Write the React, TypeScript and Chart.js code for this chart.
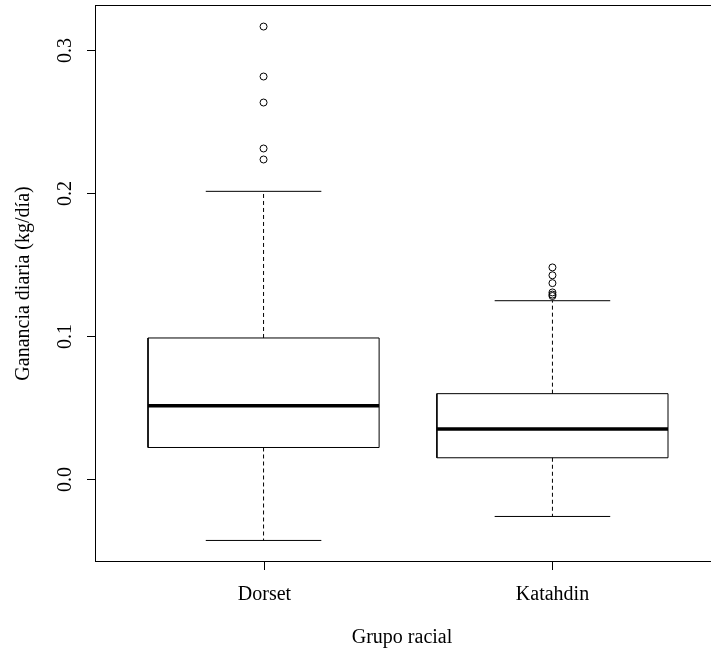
import React, { useEffect, useRef } from "react";
import Chart from "chart.js/auto";

const categories = ["Dorset", "Katahdin"];
const lowerWhisker = [-0.0432, -0.0264];
const q1 = [0.0219, 0.0147];
const medians = [0.0512, 0.0348];
const q3 = [0.0986, 0.0596];
const upperWhisker = [0.2013, 0.1247];
const dorsetOutliers = [0.3167, 0.2817, 0.2635, 0.2313, 0.2236];
const katahdinOutliers = [0.148, 0.1425, 0.137, 0.1305, 0.129, 0.128];
const yTicks = [0, 0.1, 0.2, 0.3];
const yTickLabels = ["0.0", "0.1", "0.2", "0.3"];
const xTitle = "Grupo racial";
const yTitle = "Ganancia diaria (kg/día)";

const FONT = '20px "Liberation Serif", "Times New Roman", serif';

export default function App() {
  const ref = useRef<HTMLCanvasElement | null>(null);

  useEffect(() => {
    const canvas = ref.current;
    if (!canvas) return;
    const outliers = [dorsetOutliers, katahdinOutliers];
    const datasets: any[] = [];
    const line = (pts: { x: number; y: number }[], width: number, dash: number[] = []) => ({
      data: pts,
      showLine: true,
      borderColor: "#000",
      borderWidth: width,
      borderDash: dash,
      pointRadius: 0,
      fill: false,
      tension: 0,
    });
    categories.forEach((_, i) => {
      const c = i + 1;
      const hw = 0.4;
      const cw = 0.2;
      datasets.push(
        line(
          [
            { x: c - hw, y: q1[i] },
            { x: c + hw, y: q1[i] },
            { x: c + hw, y: q3[i] },
            { x: c - hw, y: q3[i] },
            { x: c - hw, y: q1[i] },
          ],
          1
        )
      );
      datasets.push(line([{ x: c - hw, y: medians[i] }, { x: c + hw, y: medians[i] }], 3.5));
      datasets.push(line([{ x: c, y: q3[i] }, { x: c, y: upperWhisker[i] }], 1, [4, 3]));
      datasets.push(line([{ x: c, y: q1[i] }, { x: c, y: lowerWhisker[i] }], 1, [4, 3]));
      datasets.push(line([{ x: c - cw, y: upperWhisker[i] }, { x: c + cw, y: upperWhisker[i] }], 1));
      datasets.push(line([{ x: c - cw, y: lowerWhisker[i] }, { x: c + cw, y: lowerWhisker[i] }], 1));
      datasets.push({
        data: outliers[i].map((v) => ({ x: c, y: v })),
        showLine: false,
        pointStyle: "circle",
        pointRadius: 3.5,
        pointBorderWidth: 1,
        pointBorderColor: "#000",
        pointBackgroundColor: "rgba(0,0,0,0)",
      });
    });

    const allVals = [...lowerWhisker, ...upperWhisker, ...dorsetOutliers, ...katahdinOutliers];
    const lo = Math.min(...allVals);
    const hi = Math.max(...allVals);
    const ext = (hi - lo) * 0.04;

    const axesPlugin = {
      id: "rAxes",
      afterDraw(chart: any) {
        const ctx = chart.ctx as CanvasRenderingContext2D;
        const { left, right, top, bottom } = chart.chartArea;
        const xs = chart.scales.x;
        const ys = chart.scales.y;
        ctx.save();
        ctx.strokeStyle = "#000";
        ctx.fillStyle = "#000";
        ctx.lineWidth = 1;
        ctx.strokeRect(Math.round(left) - 0.5, Math.round(top) - 0.5, Math.round(right - left), Math.round(bottom - top) + 1);
        ctx.font = FONT;
        // y ticks
        yTicks.forEach((v, k) => {
          const y = Math.round(ys.getPixelForValue(v)) + 0.5;
          ctx.beginPath();
          ctx.moveTo(left - 9, y);
          ctx.lineTo(left, y);
          ctx.stroke();
          ctx.save();
          ctx.translate(71, y);
          ctx.rotate(-Math.PI / 2);
          ctx.textAlign = "center";
          ctx.textBaseline = "alphabetic";
          ctx.fillText(yTickLabels[k], 0, 0);
          ctx.restore();
        });
        // x ticks
        categories.forEach((cat, i) => {
          const x = Math.round(xs.getPixelForValue(i + 1)) + 0.5;
          ctx.beginPath();
          ctx.moveTo(x, bottom);
          ctx.lineTo(x, bottom + 9);
          ctx.stroke();
          ctx.textAlign = "center";
          ctx.textBaseline = "alphabetic";
          ctx.fillText(cat, x, 600);
        });
        ctx.textAlign = "center";
        ctx.fillText(xTitle, 402, 643);
        ctx.save();
        ctx.translate(29, (top + bottom) / 2);
        ctx.rotate(-Math.PI / 2);
        ctx.textAlign = "center";
        ctx.fillText(yTitle, 0, 0);
        ctx.restore();
        ctx.restore();
      },
    };

    const chart = new Chart(canvas, {
      type: "scatter",
      data: { datasets },
      options: {
        animation: false,
        responsive: false,
        devicePixelRatio: 1,
        layout: { padding: { left: 96, top: 6, right: 4, bottom: 90 } },
        plugins: { legend: { display: false }, tooltip: { enabled: false } },
        scales: {
          x: { type: "linear", min: 0.42, max: 2.58, display: false },
          y: { type: "linear", min: lo - ext, max: hi + ext, display: false },
        },
      },
      plugins: [axesPlugin],
    });
    return () => chart.destroy();
  }, []);

  return (
    <div
      style={{
        position: "fixed",
        left: 0,
        top: 0,
        width: 711,
        height: 651,
        overflow: "hidden",
        background: "#fff",
      }}
    >
      <canvas ref={ref} width={725} height={651} style={{ display: "block" }} />
    </div>
  );
}
